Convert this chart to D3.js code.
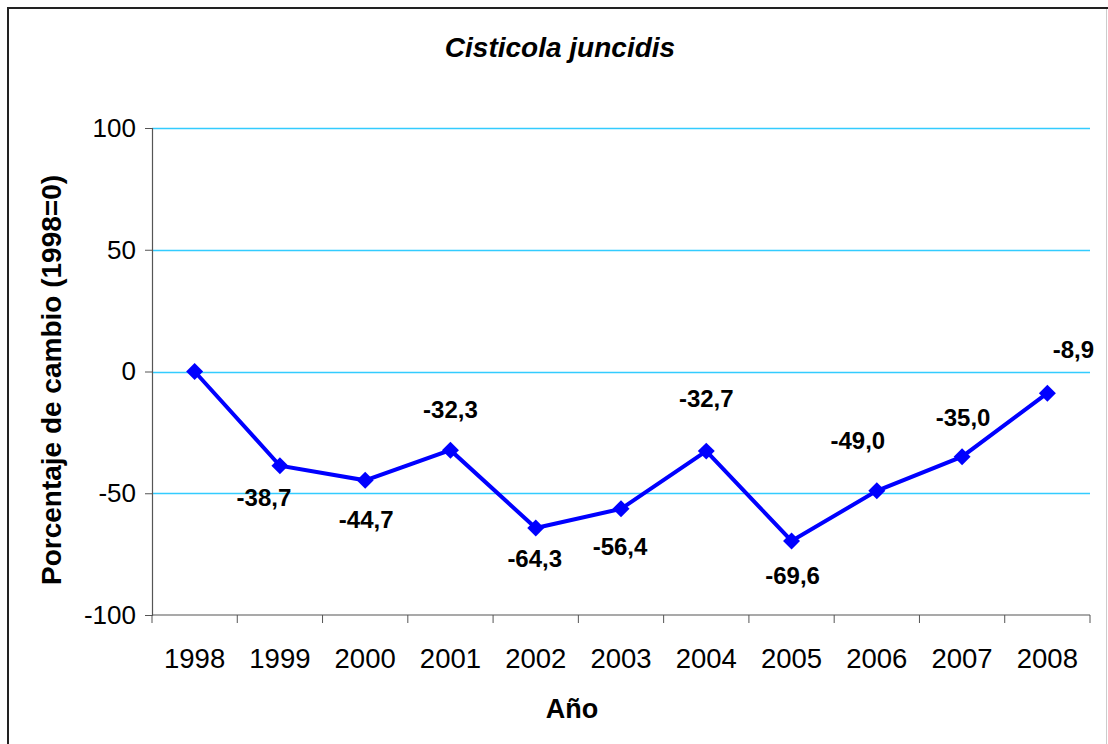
<!DOCTYPE html>
<html>
<head>
<meta charset="utf-8">
<script src="https://cdn.jsdelivr.net/npm/d3@7"></script>
<style>
  body { margin: 0; background: #fff; }
  svg { display: block; font-family: "Liberation Sans", Arial, sans-serif; }
</style>
</head>
<body>
<div id="chart"></div>
<script>
const years = ["1998", "1999", "2000", "2001", "2002", "2003", "2004", "2005", "2006", "2007", "2008"];
const change = [0, -38.7, -44.7, -32.3, -64.3, -56.4, -32.7, -69.6, -49.0, -35.0, -8.9];
const yTicks = [-100, -50, 0, 50, 100];
const gridValues = [-50, 0, 50, 100];

const W = 1108, H = 744;
const plotLeft = 152, plotRight = 1090, plotTop = 128, plotBottom = 615;

const svg = d3.select("#chart").append("svg")
    .attr("width", W)
    .attr("height", H);

// outer frame
svg.append("rect")
    .attr("x", 8).attr("y", 8)
    .attr("width", 1120).attr("height", 800)
    .attr("fill", "none")
    .attr("stroke", "#222")
    .attr("stroke-width", 2);
svg.append("line")
    .attr("x1", 1106.5).attr("x2", 1106.5)
    .attr("y1", 9).attr("y2", H)
    .attr("stroke", "#ccc");

const x = d3.scaleBand().domain(years).range([plotLeft, plotRight]).padding(0);
const y = d3.scaleLinear().domain([-100, 100]).range([plotBottom, plotTop]);

// gridlines
svg.selectAll(".grid")
    .data(gridValues)
    .enter().append("line")
    .attr("x1", plotLeft).attr("x2", plotRight)
    .attr("y1", d => Math.round(y(d)) + 0.5)
    .attr("y2", d => Math.round(y(d)) + 0.5)
    .attr("stroke", "#33ccff")
    .attr("stroke-width", 1.5);

// y axis
const yAxis = svg.append("g")
    .attr("transform", `translate(${plotLeft},0)`)
    .call(d3.axisLeft(y).tickValues(yTicks).tickSize(7).tickPadding(9).tickFormat(d => String(d)));
yAxis.select(".domain").attr("stroke", "#555").attr("stroke-width", 1.2);
yAxis.selectAll(".tick line").attr("stroke", "#555");
yAxis.selectAll("text")
    .attr("font-size", "26px")
    .attr("font-family", "Liberation Sans, Arial, sans-serif")
    .attr("fill", "#000");

// x axis line + ticks at band edges
svg.append("line")
    .attr("x1", plotLeft).attr("x2", plotRight)
    .attr("y1", plotBottom).attr("y2", plotBottom)
    .attr("stroke", "#555").attr("stroke-width", 1.2);
const edges = years.map(d => x(d)).concat([plotRight]);
svg.selectAll(".xtick")
    .data(edges)
    .enter().append("line")
    .attr("x1", d => d).attr("x2", d => d)
    .attr("y1", plotBottom).attr("y2", plotBottom + 8)
    .attr("stroke", "#555");
svg.selectAll(".xlabel")
    .data(years)
    .enter().append("text")
    .attr("x", d => x(d) + x.bandwidth() / 2)
    .attr("y", 668)
    .attr("text-anchor", "middle")
    .attr("font-size", "27.5px")
    .text(d => d);

// line + markers
const pts = years.map((yr, i) => ({ yr, v: change[i] }));
const line = d3.line()
    .x(d => x(d.yr) + x.bandwidth() / 2)
    .y(d => y(d.v));
svg.append("path")
    .datum(pts)
    .attr("d", line)
    .attr("fill", "none")
    .attr("stroke", "#0000ff")
    .attr("stroke-width", 4);
svg.selectAll(".marker")
    .data(pts)
    .enter().append("path")
    .attr("d", d3.symbol().type(d3.symbolSquare).size(144))
    .attr("transform", d => `translate(${x(d.yr) + x.bandwidth() / 2},${y(d.v)}) rotate(45)`)
    .attr("fill", "#0000ff");

// data labels (manual nudges, as placed in the original)
const nudge = [null, [-16, 32], [1, 40], [0, -40], [-1, 31], [-1, 38], [0, -52], [1, 35], [-19, -50], [1, -39], [26, -43]];
svg.selectAll(".dlabel")
    .data(pts.filter((d, i) => nudge[i]))
    .enter().append("text")
    .attr("x", d => x(d.yr) + x.bandwidth() / 2 + nudge[years.indexOf(d.yr)][0])
    .attr("y", d => y(d.v) + nudge[years.indexOf(d.yr)][1] + 8)
    .attr("text-anchor", "middle")
    .attr("font-size", "24px")
    .attr("font-weight", "bold")
    .text(d => d.v.toFixed(1).replace(".", ","));

// titles
svg.append("text")
    .attr("x", 560).attr("y", 57)
    .attr("text-anchor", "middle")
    .attr("font-size", "28px")
    .attr("font-style", "italic")
    .attr("font-weight", "bold")
    .text("Cisticola juncidis");

svg.append("text")
    .attr("x", 572).attr("y", 718)
    .attr("text-anchor", "middle")
    .attr("font-size", "27px")
    .attr("font-weight", "bold")
    .text("Año");

svg.append("text")
    .attr("transform", "translate(61,380) rotate(-90)")
    .attr("text-anchor", "middle")
    .attr("font-size", "28px")
    .attr("font-weight", "bold")
    .text("Porcentaje de cambio (1998=0)");
</script>
</body>
</html>
